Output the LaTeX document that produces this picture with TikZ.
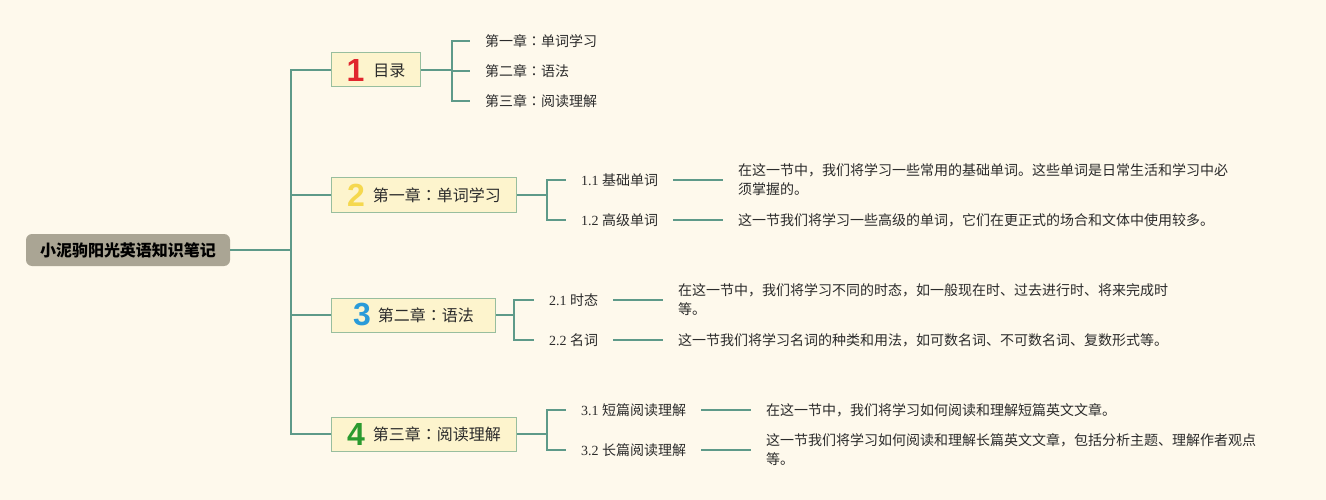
\documentclass[tikz,border=0pt]{standalone}
\usepackage{fontspec}
\setmainfont{Liberation Serif}
\newfontfamily\cjk{Noto Sans CJK SC}
\newfontfamily\cjktc{Noto Sans CJK TC}
\newfontfamily\numf{Liberation Sans}
\definecolor{bg}{HTML}{FEF9EC}
\definecolor{ln}{HTML}{5E9A89}
\definecolor{rootc}{HTML}{AAA594}
\definecolor{boxf}{HTML}{FDF4CD}
\definecolor{boxb}{HTML}{98BE9E}
\definecolor{txt}{HTML}{2B2B2B}
\definecolor{nred}{HTML}{E0262E}
\definecolor{nyel}{HTML}{F5D84E}
\definecolor{nblu}{HTML}{2A9BD9}
\definecolor{ngrn}{HTML}{2A9A2E}
\newcommand\bignum[2]{{\numf\bfseries\fontsize{32}{32}\selectfont\color{#1}#2}}
\newcommand\btext[1]{\raisebox{4.5pt}{#1}}
\newcommand\cc{{\cjktc ：}}
\begin{document}
\begin{tikzpicture}[x=1pt,y=-1pt,
  rootnode/.style={fill=rootc, rounded corners=6pt, minimum width=204pt, minimum height=32pt, inner sep=0pt, font=\cjk\bfseries\fontsize{16}{18}\selectfont, text=black},
  branch/.style={draw=boxb, fill=boxf, minimum height=34pt, inner sep=0pt, anchor=west, font=\cjk\fontsize{16}{18}\selectfont, line width=1pt, text=txt},
  leaf/.style={anchor=west, inner sep=0pt, font=\fontsize{14}{16}\selectfont, text=txt},
  desc/.style={anchor=west, inner sep=0pt, align=left, font=\cjk\fontsize{14}{19}\selectfont, text=txt},
  conn/.style={draw=ln, line width=1.6pt}]
\fill[bg] (0,0) rectangle (1326,500);
\useasboundingbox (0,0) rectangle (1326,500);

% root
\node[rootnode] (root) at (128,250) {小泥驹阳光英语知识笔记};

% branches
\node[branch, minimum width=89pt]  (b1) at (331,70)  {\bignum{nred}{1}\hspace{9pt}\btext{目录}};
\node[branch, minimum width=185pt] (b2) at (331,195) {\bignum{nyel}{2}\hspace{8pt}\btext{第一章\cc 单词学习}};
\node[branch, minimum width=164pt] (b3) at (331,315) {\bignum{nblu}{3}\hspace{7pt}\btext{第二章\cc 语法}\hspace{10pt}};
\node[branch, minimum width=185pt] (b4) at (331,434) {\bignum{ngrn}{4}\hspace{8pt}\btext{第三章\cc 阅读理解}};

% branch 1 leaves
\node[leaf] (t11) at (485,41)  {\cjk 第一章\cc 单词学习};
\node[leaf] (t12) at (485,71)  {\cjk 第二章\cc 语法};
\node[leaf] (t13) at (485,101) {\cjk 第三章\cc 阅读理解};

% branch 2
\node[leaf] (l11) at (581,180) {1.1 {\cjk 基础单词}};
\node[leaf] (l12) at (581,220) {1.2 {\cjk 高级单词}};
\node[desc] (d11) at (738,180) {在这一节中，我们将学习一些常用的基础单词。这些单词是日常生活和学习中必\\须掌握的。};
\node[desc] (d12) at (738,220) {这一节我们将学习一些高级的单词，它们在更正式的场合和文体中使用较多。};

% branch 3
\node[leaf] (l21) at (549,300) {2.1 {\cjk 时态}};
\node[leaf] (l22) at (549,340) {2.2 {\cjk 名词}};
\node[desc] (d21) at (678,300) {在这一节中，我们将学习不同的时态，如一般现在时、过去进行时、将来完成时\\等。};
\node[desc] (d22) at (678,340) {这一节我们将学习名词的种类和用法，如可数名词、不可数名词、复数形式等。};

% branch 4
\node[leaf] (l31) at (581,410) {3.1 {\cjk 短篇阅读理解}};
\node[leaf] (l32) at (581,450) {3.2 {\cjk 长篇阅读理解}};
\node[desc] (d31) at (766,410) {在这一节中，我们将学习如何阅读和理解短篇英文文章。};
\node[desc] (d32) at (766,450) {这一节我们将学习如何阅读和理解长篇英文文章，包括分析主题、理解作者观点\\等。};

% connectors
\draw[conn] (root.east) -- ++(61,0) coordinate (tr);
\foreach \b in {b1,b2,b3,b4} \draw[conn] (tr) |- (\b.west);

\draw[conn] (b1.east) -- ++(31,0) coordinate (s1);
\foreach \t in {t11,t12,t13} \draw[conn] (s1) |- ([xshift=-15pt]\t.west);

\draw[conn] (b2.east) -- ++(30,0) coordinate (s2);
\foreach \t in {l11,l12} \draw[conn] (s2) |- ([xshift=-15pt]\t.west);

\draw[conn] (b3.east) -- ++(18,0) coordinate (s3);
\foreach \t in {l21,l22} \draw[conn] (s3) |- ([xshift=-15pt]\t.west);

\draw[conn] (b4.east) -- ++(30,0) coordinate (s4);
\foreach \t in {l31,l32} \draw[conn] (s4) |- ([xshift=-15pt]\t.west);

\draw[conn] ([xshift=15pt]l11.east) -- ([xshift=-15pt]d11.west);
\draw[conn] ([xshift=15pt]l12.east) -- ([xshift=-15pt]d12.west);
\draw[conn] ([xshift=15pt]l21.east) -- ([xshift=-15pt]d21.west);
\draw[conn] ([xshift=15pt]l22.east) -- ([xshift=-15pt]d22.west);
\draw[conn] ([xshift=15pt]l31.east) -- ([xshift=-15pt]d31.west);
\draw[conn] ([xshift=15pt]l32.east) -- ([xshift=-15pt]d32.west);
\end{tikzpicture}
\end{document}
